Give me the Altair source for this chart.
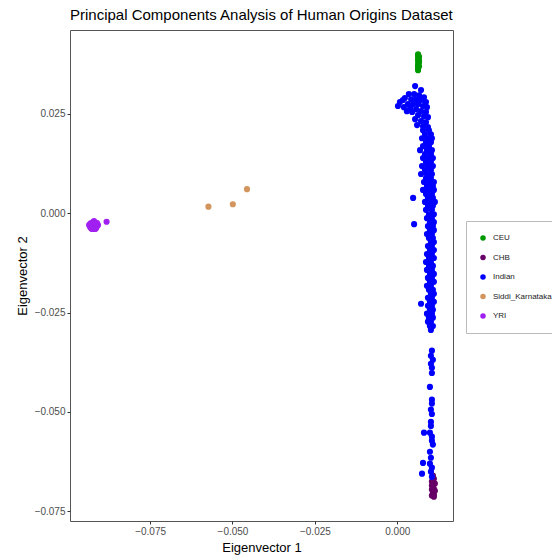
import altair as alt
import pandas as pd

# Population labels and their plotting colours
populations = ["CEU", "CHB", "Indian", "Siddi_Karnataka", "YRI"]
pop_colors = ["#009A00", "#660066", "#0000FF", "#D2955E", "#A020F0"]

# Eigenvector coordinates per population
ceu_ev1 = [0.0063, 0.0063, 0.0066, 0.0063, 0.0063, 0.0066, 0.0063, 0.0063,
           0.0066, 0.0063, 0.0063, 0.0066, 0.0064]
ceu_ev2 = [0.0399, 0.0394, 0.0392, 0.0387, 0.0382, 0.0379, 0.0374, 0.0369,
           0.0369, 0.0364, 0.0359, 0.0384, 0.0396]

chb_ev1 = [0.0108, 0.0111, 0.0105, 0.0114, 0.0108, 0.0111, 0.0105, 0.0114,
           0.0108, 0.0111, 0.0105, 0.0111, 0.0108, 0.0105]
chb_ev2 = [-0.0660, -0.0668, -0.0675, -0.0680, -0.0685, -0.0693, -0.0695, -0.0698,
           -0.0703, -0.0708, -0.0710, -0.0713, -0.0670, -0.0685]

indian_ev1 = [
    # upper hook
    0.0054, 0.0072, 0.0035, 0.0051, 0.0066, 0.0081, 0.0023, 0.0042, 0.0057,
    0.0072, 0.0087, 0.0008, 0.0017, 0.0032, 0.0048, 0.0063, 0.0078, 0.0090,
    0.0002, 0.0020, 0.0039, 0.0057, 0.0072, 0.0087, 0.0029, 0.0045, 0.0063,
    0.0081, 0.0093, 0.0054, 0.0072, 0.0087, 0.0060, 0.0078, 0.0093,
    # main column
    0.0078, 0.0096, 0.0084, 0.0102, 0.0075, 0.0093, 0.0105, 0.0087, 0.0102,
    0.0078, 0.0096, 0.0069, 0.0090, 0.0105, 0.0084, 0.0102, 0.0078, 0.0096,
    0.0108, 0.0087, 0.0102, 0.0075, 0.0093, 0.0108, 0.0084, 0.0102, 0.0072,
    0.0090, 0.0105, 0.0087, 0.0102, 0.0081, 0.0099, 0.0111, 0.0090, 0.0108,
    0.0078, 0.0096, 0.0111, 0.0087, 0.0105, 0.0048, 0.0093, 0.0108, 0.0084,
    0.0102, 0.0114, 0.0093, 0.0108, 0.0087, 0.0105, 0.0096, 0.0111, 0.0090,
    0.0105, 0.0099, 0.0111, 0.0051, 0.0093, 0.0108, 0.0099, 0.0111, 0.0090,
    0.0105, 0.0096, 0.0108, 0.0102, 0.0111, 0.0093, 0.0105, 0.0099, 0.0111,
    0.0090, 0.0105, 0.0096, 0.0111, 0.0087, 0.0102, 0.0096, 0.0108, 0.0090,
    0.0105, 0.0099, 0.0111, 0.0093, 0.0105, 0.0099, 0.0111, 0.0090, 0.0102,
    0.0096, 0.0108, 0.0102, 0.0111, 0.0093, 0.0105, 0.0099, 0.0111, 0.0072,
    0.0093, 0.0105, 0.0099, 0.0108, 0.0090, 0.0105, 0.0096, 0.0108, 0.0093,
    0.0102, 0.0099, 0.0108, 0.0102,
    # lower tail
    0.0105, 0.0102, 0.0108, 0.0102, 0.0105, 0.0105, 0.0099, 0.0105, 0.0105,
    0.0102, 0.0105, 0.0102, 0.0102, 0.0081, 0.0099, 0.0105, 0.0105, 0.0108,
    0.0099, 0.0102, 0.0078, 0.0099, 0.0105, 0.0075, 0.0102, 0.0105,
]
indian_ev2 = [
    # upper hook
    0.0319, 0.0309, 0.0299, 0.0299, 0.0296, 0.0291, 0.0289, 0.0286, 0.0286,
    0.0284, 0.0279, 0.0279, 0.0284, 0.0274, 0.0274, 0.0274, 0.0269, 0.0266,
    0.0269, 0.0266, 0.0264, 0.0261, 0.0256, 0.0254, 0.0256, 0.0254, 0.0246,
    0.0243, 0.0241, 0.0236, 0.0231, 0.0228, 0.0221, 0.0218, 0.0216,
    # main column
    0.0208, 0.0208, 0.0198, 0.0198, 0.0188, 0.0188, 0.0188, 0.0178, 0.0178,
    0.0168, 0.0168, 0.0158, 0.0158, 0.0158, 0.0148, 0.0148, 0.0138, 0.0138,
    0.0138, 0.0128, 0.0128, 0.0118, 0.0118, 0.0118, 0.0108, 0.0108, 0.0098,
    0.0098, 0.0098, 0.0088, 0.0088, 0.0078, 0.0078, 0.0078, 0.0068, 0.0068,
    0.0058, 0.0058, 0.0058, 0.0048, 0.0048, 0.0038, 0.0038, 0.0038, 0.0028,
    0.0028, 0.0028, 0.0018, 0.0018, 0.0008, 0.0008, -0.0003, -0.0003, -0.0013,
    -0.0013, -0.0023, -0.0023, -0.0028, -0.0033, -0.0033, -0.0043, -0.0043, -0.0053,
    -0.0053, -0.0063, -0.0063, -0.0073, -0.0073, -0.0083, -0.0083, -0.0093, -0.0093,
    -0.0103, -0.0103, -0.0113, -0.0113, -0.0123, -0.0123, -0.0133, -0.0133, -0.0143,
    -0.0143, -0.0153, -0.0153, -0.0163, -0.0163, -0.0173, -0.0173, -0.0183, -0.0183,
    -0.0193, -0.0193, -0.0203, -0.0203, -0.0213, -0.0213, -0.0223, -0.0223, -0.0228,
    -0.0233, -0.0233, -0.0243, -0.0243, -0.0253, -0.0253, -0.0263, -0.0263, -0.0273,
    -0.0273, -0.0284, -0.0284, -0.0294,
    # lower tail
    -0.0346, -0.0359, -0.0369, -0.0379, -0.0389, -0.0402, -0.0437, -0.0469, -0.0479,
    -0.0494, -0.0505, -0.0525, -0.0535, -0.0552, -0.0552, -0.0562, -0.0572, -0.0582,
    -0.0600, -0.0615, -0.0628, -0.0630, -0.0640, -0.0655, -0.0650, -0.0663,
]

siddi_ev1 = [-0.0573, -0.0499, -0.0456]
siddi_ev2 = [0.0016, 0.0022, 0.0060]

yri_ev1 = [-0.0935, -0.0932, -0.0929, -0.0926, -0.0926, -0.0923, -0.0923, -0.0920,
           -0.0917, -0.0917, -0.0914, -0.0911, -0.0908, -0.0929, -0.0920, -0.0914,
           -0.0932, -0.0911, -0.0882]
yri_ev2 = [-0.0030, -0.0035, -0.0025, -0.0033, -0.0040, -0.0023, -0.0028, -0.0035,
           -0.0030, -0.0040, -0.0025, -0.0033, -0.0030, -0.0038, -0.0020, -0.0038,
           -0.0028, -0.0025, -0.0022]

series = [
    ("CEU", ceu_ev1, ceu_ev2),
    ("CHB", chb_ev1, chb_ev2),
    ("Indian", indian_ev1, indian_ev2),
    ("Siddi_Karnataka", siddi_ev1, siddi_ev2),
    ("YRI", yri_ev1, yri_ev2),
]
rows = []
for name, xs, ys in series:
    for x, y in zip(xs, ys):
        rows.append({"pop": name, "ev1": x, "ev2": y, "idx": len(rows)})
df = pd.DataFrame(rows)

FONT = "Liberation Sans"

chart = alt.Chart(df).mark_circle(size=38, opacity=1).encode(
    x=alt.X(
        "ev1:Q",
        title="Eigenvector 1",
        scale=alt.Scale(domain=[-0.0993, 0.0169], nice=False, zero=False),
        axis=alt.Axis(values=[-0.075, -0.05, -0.025, 0.0], format=".3f"),
    ),
    y=alt.Y(
        "ev2:Q",
        title="Eigenvector 2",
        scale=alt.Scale(domain=[-0.0774, 0.0460], nice=False, zero=False),
        axis=alt.Axis(values=[-0.075, -0.05, -0.025, 0.0, 0.025], format=".3f"),
    ),
    color=alt.Color(
        "pop:N",
        scale=alt.Scale(domain=populations, range=pop_colors),
        legend=alt.Legend(
            title=None,
            orient="none",
            legendX=396,
            legendY=191,
            symbolType="circle",
            symbolSize=30,
            labelFontSize=8,
            labelFont=FONT,
            labelColor="#222222",
            labelOffset=6,
            rowPadding=11.5,
            padding=13,
            strokeColor="#BBBBBB",
            fillColor="white",
        ),
    ),
    order=alt.Order("idx:Q"),
).properties(
    width=383,
    height=491,
    autosize=alt.AutoSizeParams(type="none"),
    padding={"left": 70, "top": 30, "right": 99, "bottom": 34},
    title=alt.TitleParams(
        "Principal Components Analysis of Human Origins Dataset",
        anchor="start",
        frame="group",
        font=FONT,
        fontSize=15,
        fontWeight="normal",
        color="#000000",
        offset=7,
    ),
).configure_view(
    stroke="#555555",
    strokeWidth=1,
).configure_axis(
    grid=False,
    domain=False,
    ticks=True,
    tickColor="#333333",
    tickSize=3,
    labelColor="#4D4D4D",
    labelFont=FONT,
    labelFontSize=10,
    labelPadding=2,
    titleFont=FONT,
    titleFontSize=13,
    titleFontWeight="normal",
    titleColor="#000000",
    titlePadding=5,
)

chart.save("out.html", embed_options={"renderer": "svg", "actions": False})
